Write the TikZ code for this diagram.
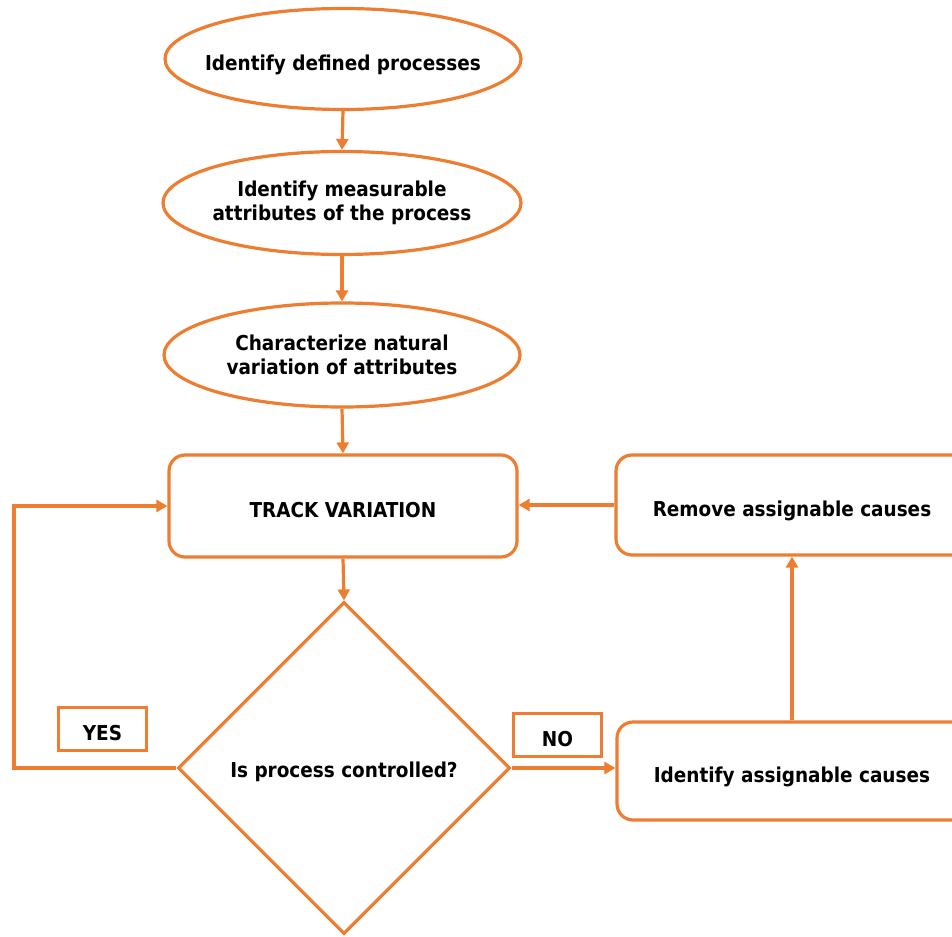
\documentclass[tikz,border=0pt]{standalone}
\usepackage{fontspec}
\setmainfont{DejaVu Sans Condensed}
\usetikzlibrary{shapes.geometric,arrows.meta}
\definecolor{flow}{HTML}{ED7D31}
\begin{document}
\begin{tikzpicture}[x=1pt,y=-1pt,
  every node/.style={font=\bfseries\fontsize{20.5}{24}\selectfont, align=center, text=black, inner sep=0pt},
  oneline/.style={text height=23pt, text depth=0pt},
  oval/.style={draw=flow, line width=3.2pt, ellipse, inner xsep=-14pt, minimum width=356pt, minimum height=101pt},
  stepbox/.style={draw=flow, line width=3.2pt, rectangle, rounded corners=16pt, minimum width=350pt, minimum height=100pt},
  decision/.style={draw=flow, line width=3.2pt, diamond, minimum width=332pt, minimum height=332pt},
  tag/.style={draw=flow, line width=3.2pt, rectangle, minimum width=88pt, minimum height=43pt},
  link/.style={draw=flow, line width=3.2pt, -{Triangle[length=11pt,width=12pt]}}
]
\useasboundingbox (0,0) rectangle (952,936);
\clip (0,0) rectangle (952,936);

% process chain
\node[oval, oneline] (e1) at (343,59) {Identify defined processes};
\node[oval, minimum width=358pt, minimum height=103pt] (e2) at (342,203) {Identify measurable\\attributes of the process};
\node[oval, minimum height=104pt] (e3) at (342,355) {Characterize natural\\variation of attributes};
\node[stepbox, oneline, minimum width=348pt, minimum height=102pt] (track) at (343,506) {TRACK VARIATION};
\node[decision, text height=18pt, text depth=0pt] (dec) at (344,768) {Is process controlled?};

% corrective branch
\node[stepbox, oneline, minimum width=352pt] (remove) at (792,505) {Remove assignable causes};
\node[stepbox, oneline, minimum height=98pt] (assign) at (792,771) {Identify assignable causes};

% answer labels
\node[tag, oneline] (yes) at (102.5,729) {YES};
\node[tag, oneline] (no) at (557.5,735) {NO};

\coordinate (lx) at (14,0);

% connectors
\draw[link] (e1.south) -- (e2.north);
\draw[link] (e2.south) -- (e3.north);
\draw[link] (e3.south) -- (track.north);
\draw[link] (track.south) -- (dec.north);
\draw[link] (dec.west) -- (dec.west -| lx) |- (track.west);
\draw[link] (dec.east) -- (dec.east -| assign.west);
\draw[link] (assign.north) -- (remove.south);
\draw[link] (remove.west) -- (remove.west -| track.east);
\end{tikzpicture}
\end{document}
